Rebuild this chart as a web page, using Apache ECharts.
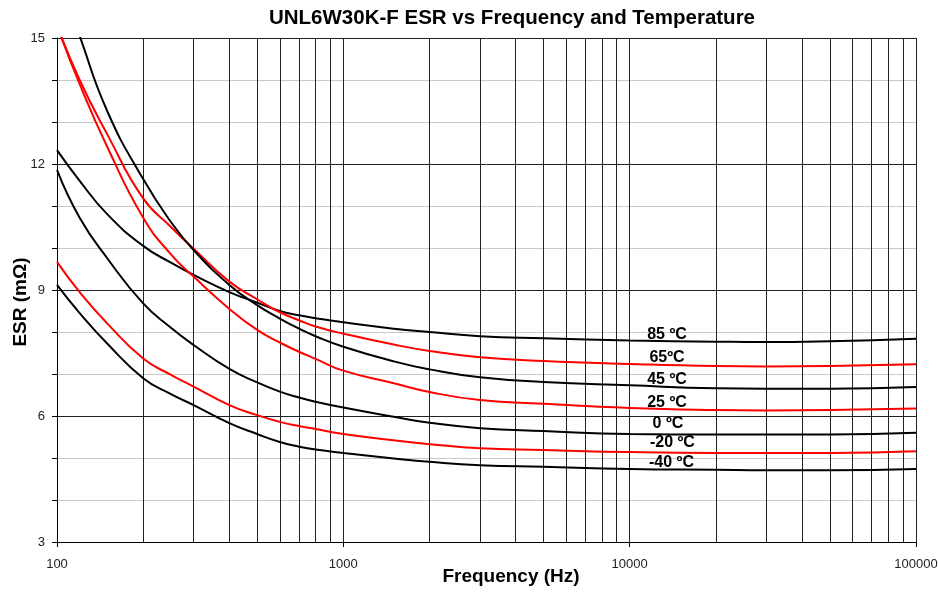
<!DOCTYPE html>
<html><head><meta charset="utf-8">
<script src="https://cdn.jsdelivr.net/npm/echarts@6/dist/echarts.min.js"></script>
<style>html,body{margin:0;padding:0;background:#fff}#c{width:938px;height:592px}</style>
</head><body><div id="c"></div>
<script>
// Frequencies (Hz)
const freqs = [100,120,150,200,250,300,400,500,600,700,800,1000,1500,2000,3000,5000,10000,20000,30000,50000,100000];
// ESR (mOhm) per temperature
const esr85  = [12.33,11.6,10.8,10.05,9.65,9.36,8.95,8.70,8.50,8.40,8.33,8.23,8.08,8.0,7.90,7.85,7.80,7.77,7.76,7.78,7.84];
const esr65  = [15.3,14.0,12.7,11.18,10.5,9.98,9.2,8.78,8.47,8.28,8.13,7.96,7.7,7.55,7.40,7.31,7.24,7.19,7.18,7.19,7.23];
const esr45  = [16.6,15.05,13.25,11.64,10.62,9.95,9.12,8.64,8.32,8.08,7.9,7.65,7.3,7.11,6.92,6.81,6.73,6.66,6.65,6.65,6.69];
const esr25  = [15.3,13.9,12.4,10.72,9.85,9.32,8.55,8.05,7.75,7.53,7.36,7.08,6.78,6.57,6.38,6.29,6.19,6.14,6.13,6.14,6.18];
const esr0   = [11.86,10.72,9.75,8.68,8.1,7.69,7.12,6.80,6.58,6.44,6.34,6.2,5.98,5.84,5.71,5.64,5.57,5.56,5.56,5.56,5.60];
const esrM20 = [9.67,8.95,8.2,7.37,6.98,6.70,6.26,6.02,5.86,5.76,5.69,5.57,5.42,5.33,5.23,5.19,5.14,5.12,5.12,5.12,5.16];
const esrM40 = [9.12,8.45,7.72,6.90,6.52,6.26,5.83,5.57,5.38,5.27,5.2,5.12,4.99,4.91,4.83,4.79,4.74,4.72,4.71,4.71,4.74];

const seriesNames  = ['85 ºC','65ºC','45 ºC','25 ºC','0 ºC','-20 ºC','-40 ºC'];
const seriesValues = [esr85, esr65, esr45, esr25, esr0, esrM20, esrM40];
const seriesColors = ['#000000','#ff0000','#000000','#ff0000','#000000','#ff0000','#000000'];

// Curve label anchors (frequency, ESR)
const labelFreqs  = [13500,13500,13500,13500,13600,14100,14000];
const labelValues = [7.93,7.38,6.86,6.33,5.81,5.36,4.90];

// Minor vertical grid lines
const gridFreqs = [200,300,400,500,600,700,800,900,2000,3000,4000,5000,6000,7000,8000,9000,20000,30000,40000,50000,60000,70000,80000,90000];

const chart = echarts.init(document.getElementById('c'), null, {renderer:'canvas'});
const FONT = 'Liberation Sans, Arial, sans-serif';

const series = seriesValues.map((vals, i) => ({
  name: seriesNames[i],
  type: 'line',
  data: freqs.map((f, j) => [f, vals[j]]),
  smooth: 0.5,
  symbol: 'none',
  clip: true,
  lineStyle: {color: seriesColors[i], width: 2},
  z: 5
}));

series.push({
  type: 'line',
  data: [[100, 3]],
  symbol: 'none',
  lineStyle: {opacity: 0},
  silent: true,
  z: 1,
  markLine: {
    silent: true,
    symbol: ['none','none'],
    label: {show: false},
    lineStyle: {color: '#222', width: 1, type: 'solid'},
    emphasis: {disabled: true},
    animation: false,
    data: gridFreqs.map(f => ({xAxis: f}))
  }
});

series.push({
  type: 'scatter',
  data: labelFreqs.map((f, i) => [f, labelValues[i]]),
  symbolSize: 0,
  silent: true,
  z: 6,
  itemStyle: {opacity: 1, color: '#000'},
  label: {
    show: true,
    position: 'inside',
    formatter: p => seriesNames[p.dataIndex],
    fontFamily: FONT,
    fontWeight: 'bold',
    fontSize: 16,
    color: '#000',
    opacity: 1,
    textBorderWidth: 0
  }
});

chart.setOption({
  animation: false,
  backgroundColor: '#fff',
  grid: {left: 57, right: 22, top: 38, bottom: 50, containLabel: false, outerBoundsMode: 'none'},
  xAxis: {
    type: 'log', logBase: 10, min: 100, max: 100000,
    axisLine: {show: true, lineStyle: {color: '#000', width: 1}},
    axisTick: {show: true, length: 5, lineStyle: {color: '#000'}},
    splitLine: {show: true, lineStyle: {color: '#222', width: 1}},
    axisLabel: {fontFamily: FONT, fontSize: 13, color: '#222', margin: 16,
      formatter: v => String(Math.round(v))}
  },
  yAxis: {
    type: 'value', min: 3, max: 15, interval: 3,
    axisLine: {show: true, lineStyle: {color: '#000', width: 1}},
    axisTick: {show: true, length: 5, lineStyle: {color: '#000'}},
    minorTick: {show: true, splitNumber: 3, length: 5, lineStyle: {color: '#000'}},
    splitLine: {show: true, lineStyle: {color: '#222', width: 1}},
    minorSplitLine: {show: true, lineStyle: {color: '#c8c8c8', width: 1}},
    axisLabel: {fontFamily: FONT, fontSize: 13, color: '#222', margin: 12}
  },
  graphic: [
    {type: 'text', x: 512, y: 18, style: {text: 'UNL6W30K-F ESR vs Frequency and Temperature',
      fontFamily: FONT, fontWeight: 'bold', fontSize: 20.5, fill: '#000', align: 'center', verticalAlign: 'middle'}},
    {type: 'text', x: 511, y: 577, style: {text: 'Frequency (Hz)',
      fontFamily: FONT, fontWeight: 'bold', fontSize: 19, fill: '#000', align: 'center', verticalAlign: 'middle'}},
    {type: 'text', x: 21, y: 302, rotation: Math.PI/2, style: {text: 'ESR (mΩ)',
      fontFamily: FONT, fontWeight: 'bold', fontSize: 19, fill: '#000', align: 'center', verticalAlign: 'middle'}}
  ],
  series: series
});
</script></body></html>
